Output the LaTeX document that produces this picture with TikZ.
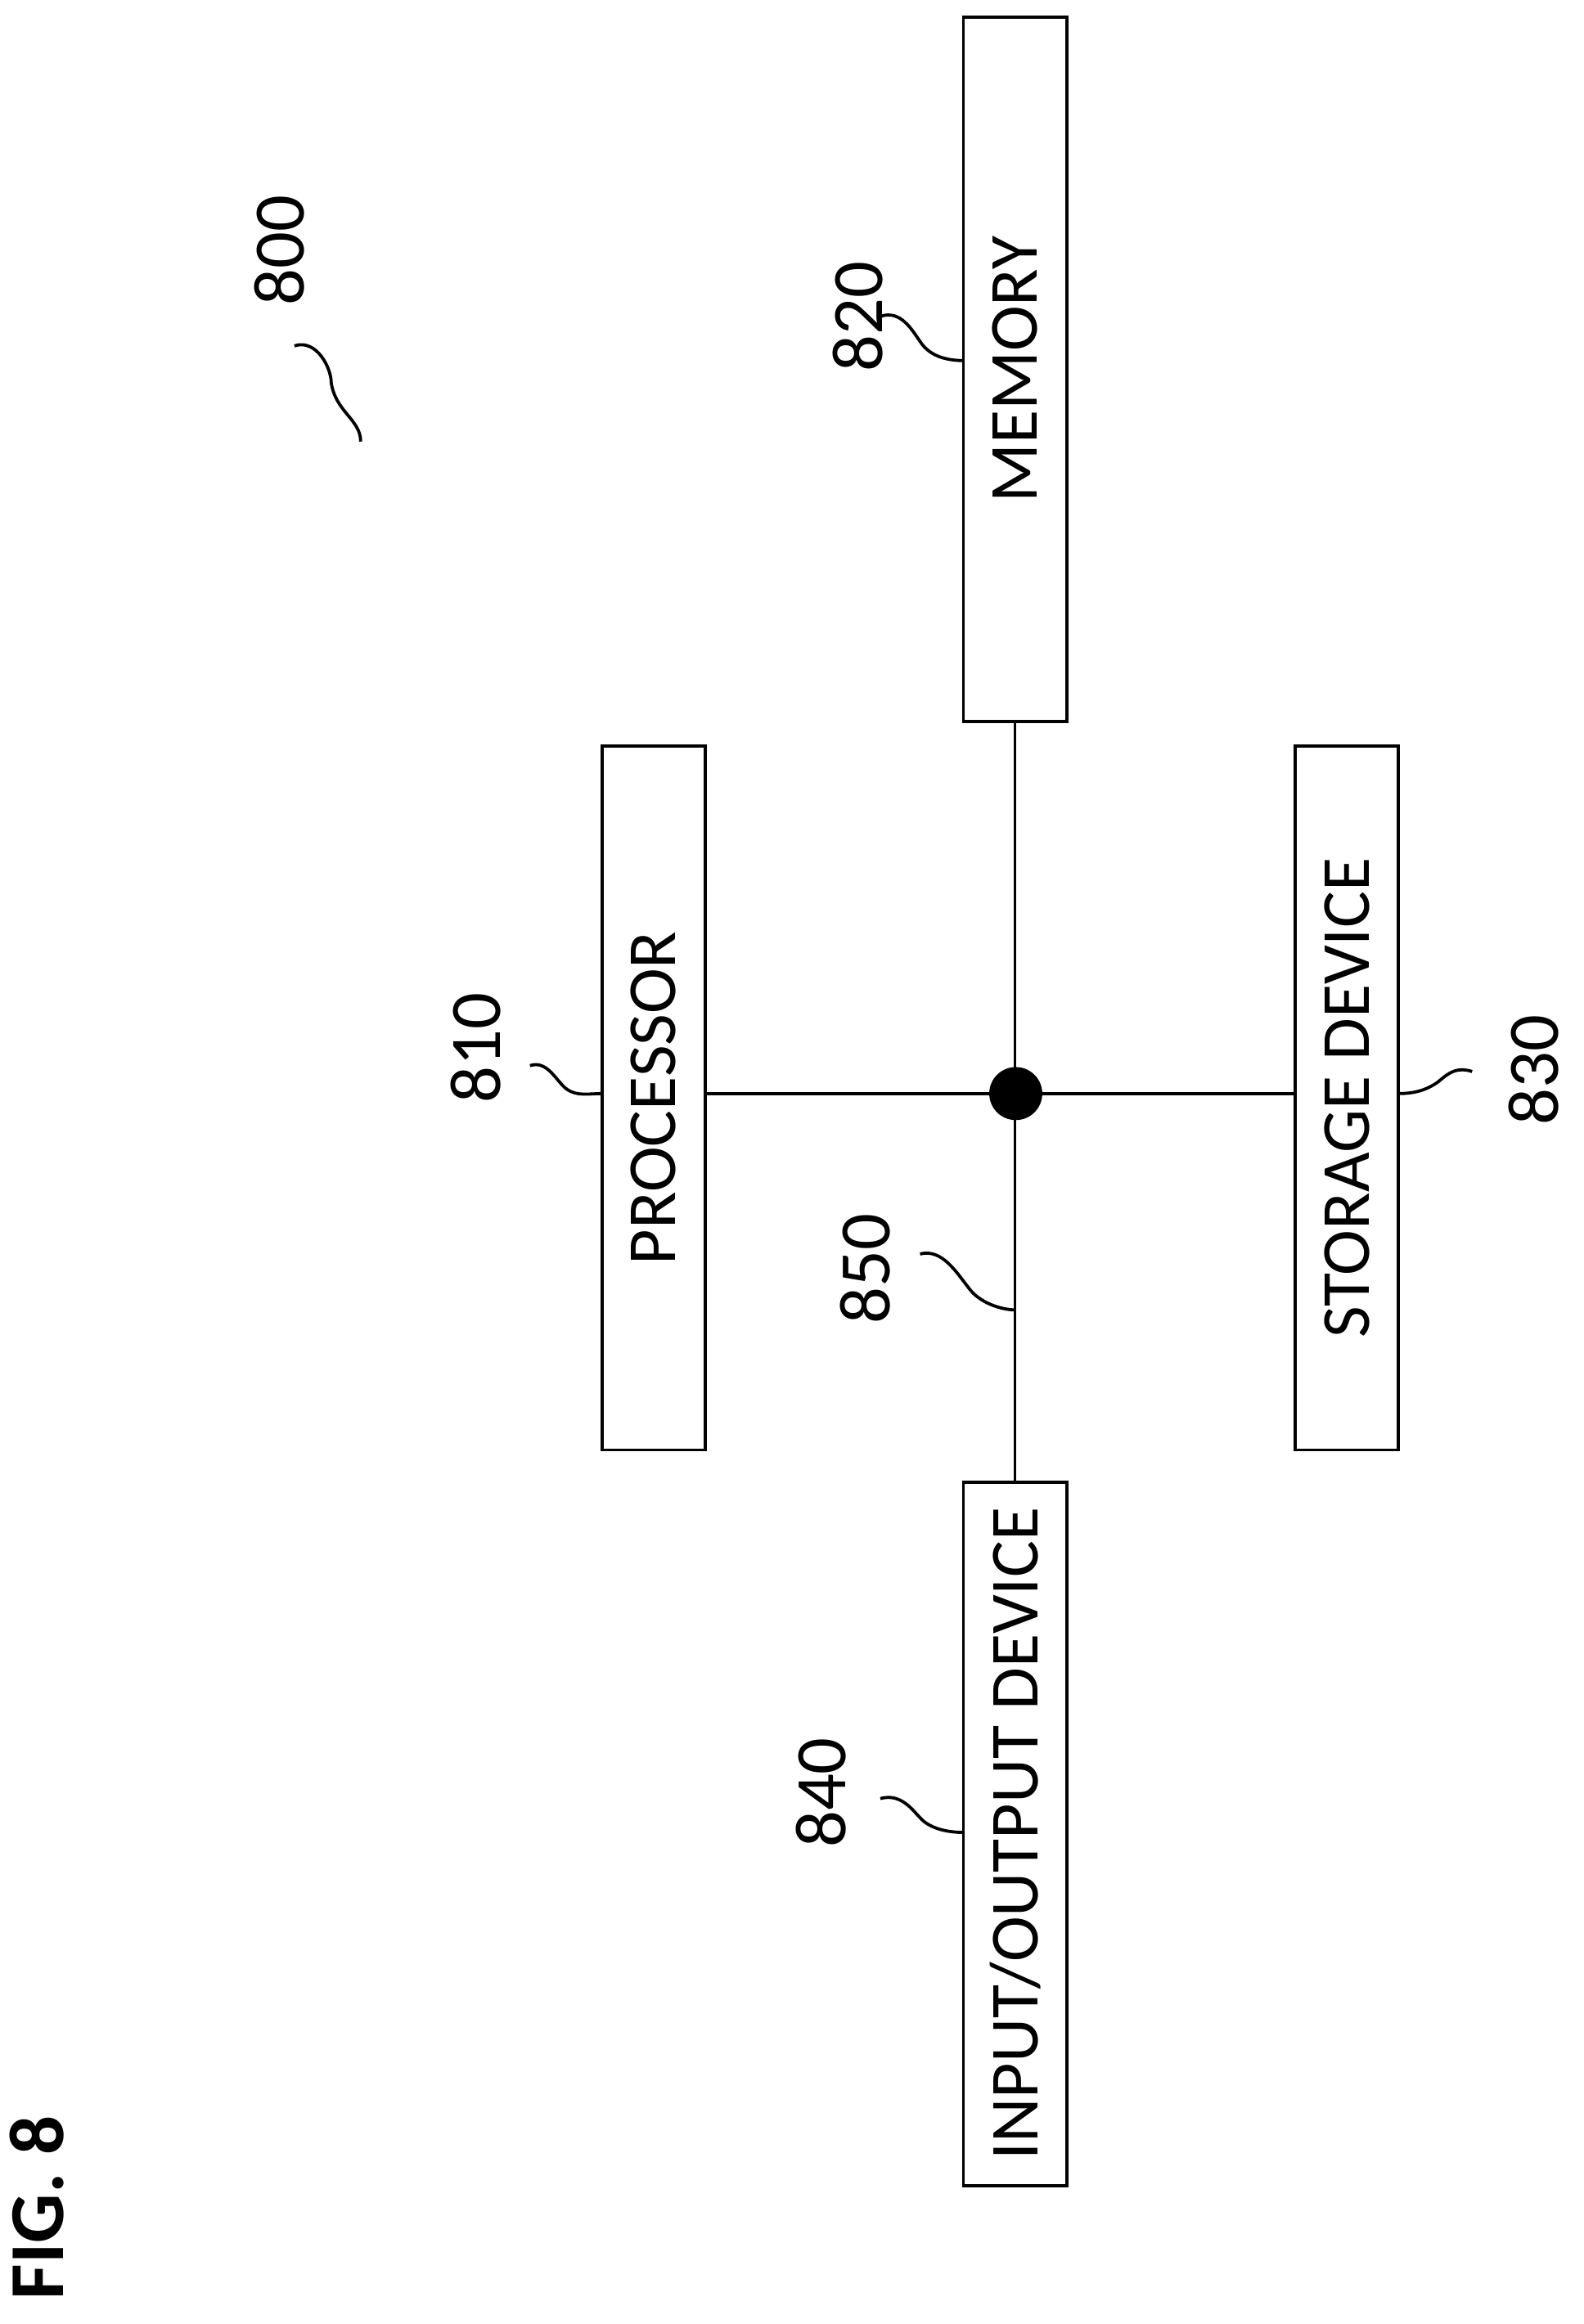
\documentclass[tikz,border=0pt]{standalone}
\usepackage{fontspec}
\setmainfont{Carlito}
\begin{document}
\begin{tikzpicture}[x=0.01cm,y=-0.01cm,line width=0.6pt,
 box/.style={draw,minimum width=0.7cm,minimum height=4.78cm,inner sep=0pt},
 btxt/.style={rotate=90,font=\fontsize{13.3}{16}\selectfont},
 lbl/.style={font=\fontsize{14}{16}\selectfont,rotate=90}]
\useasboundingbox (0,0) rectangle (1076,1579);
\node[box] (mem) at (689.5,251) {};
\node[btxt] at (mem) {MEMORY};
\node[box] (proc) at (444,746) {};
\node[btxt] at (proc) {PROCESSOR};
\node[box] (stor) at (915,746) {};
\node[btxt] at (stor) {STORAGE DEVICE};
\node[box] (io) at (689.5,1246) {};
\node[btxt] at (io) {INPUT/OUTPUT DEVICE};
\node[circle,fill,minimum size=0.36cm,inner sep=0pt] (bus) at (690,743) {};
\draw (mem.south) -- (io.north);
\draw (proc.east |- bus) -- (stor.west |- bus);
\node[lbl] at (190,170) {800};
\draw (200,235) .. controls (215,230) and (225,250) .. (225,260) .. controls (228,280) and (245,285) .. (245,300);
\node[lbl] at (583,215) {820};
\draw (598,215) .. controls (612,210) and (620,225) .. (625,232) .. controls (632,243) and (645,245) .. (655,245);
\node[lbl] at (323,712) {810};
\draw (360,724) .. controls (372,720) and (378,735) .. (385,740) .. controls (392,745) and (400,743) .. (409,743);
\node[lbl] at (588,862) {850};
\draw (625,852) .. controls (640,848) and (650,865) .. (658,875) .. controls (665,885) and (680,890) .. (690,890);
\node[lbl] at (1042,727) {830};
\draw (950,743) .. controls (962,743) and (970,740) .. (977,735) .. controls (985,728) and (990,725) .. (1000,728);
\node[lbl] at (558,1218) {840};
\draw (598,1222) .. controls (612,1218) and (620,1230) .. (625,1235) .. controls (632,1243) and (645,1245) .. (655,1245);
\node[rotate=90,font=\fontsize{15}{17}\selectfont\bfseries] at (25,1500) {FIG. 8};
\end{tikzpicture}
\end{document}
